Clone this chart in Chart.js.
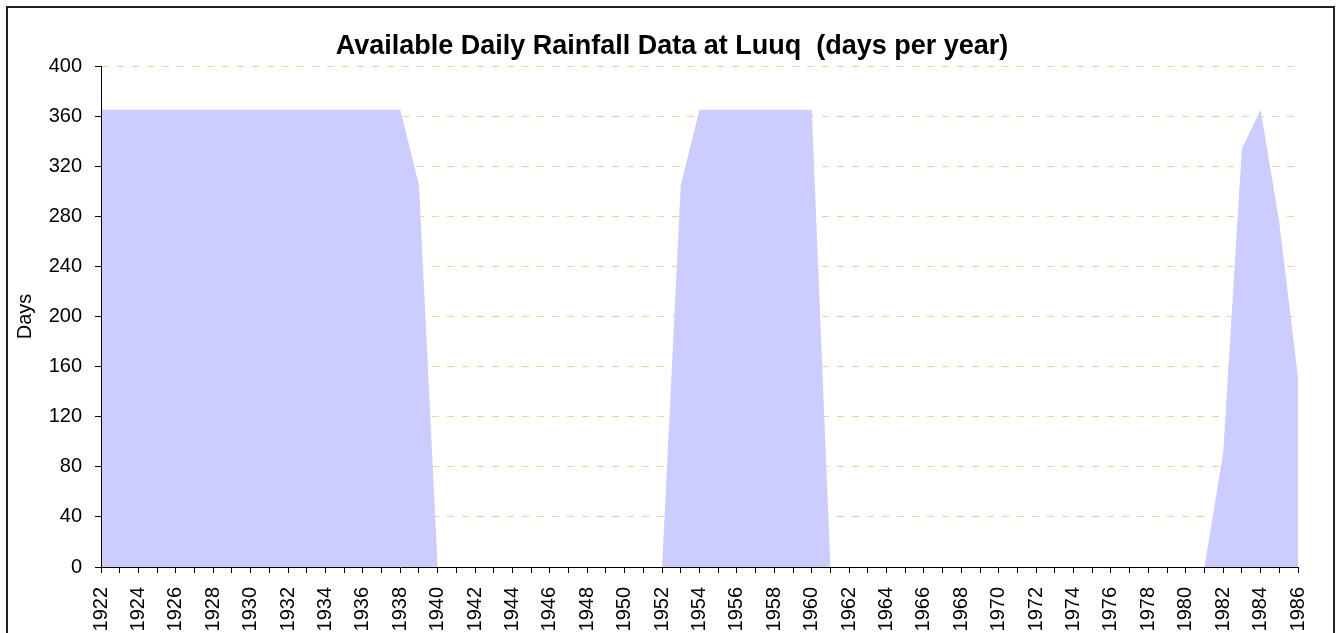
<!DOCTYPE html>
<html>
<head>
<meta charset="utf-8">
<script src="https://cdn.jsdelivr.net/npm/chart.js@4/dist/chart.umd.min.js"></script>
<style>
  body { margin: 0; background: #fff; overflow: hidden; }
  #caixa { position: absolute; left: 0; top: 0; width: 1337px; height: 633px; }
  #moldura { position: absolute; left: 6px; top: 6px; width: 1325px; height: 700px; border: 2px solid #222; pointer-events: none; }
</style>
</head>
<body>
<div id="caixa"><canvas id="grafico" width="1337" height="633"></canvas></div>
<div id="moldura"></div>
<script>
// anos (eixo x)
let anos = [
  "1922", "1923", "1924", "1925", "1926", "1927", "1928", "1929", "1930", "1931",
  "1932", "1933", "1934", "1935", "1936", "1937", "1938", "1939", "1940", "1941",
  "1942", "1943", "1944", "1945", "1946", "1947", "1948", "1949", "1950", "1951",
  "1952", "1953", "1954", "1955", "1956", "1957", "1958", "1959", "1960", "1961",
  "1962", "1963", "1964", "1965", "1966", "1967", "1968", "1969", "1970", "1971",
  "1972", "1973", "1974", "1975", "1976", "1977", "1978", "1979", "1980", "1981",
  "1982", "1983", "1984", "1985", "1986"
];

// dias com dados por ano
let dias = [
  365, 365, 365, 365, 365, 365, 365, 365, 365, 365,
  365, 365, 365, 365, 365, 365, 365, 305, 0, 0,
  0, 0, 0, 0, 0, 0, 0, 0, 0, 0,
  0, 305, 365, 365, 365, 365, 365, 365, 365, 0,
  0, 0, 0, 0, 0, 0, 0, 0, 0, 0,
  0, 0, 0, 0, 0, 0, 0, 0, 0, 0,
  91, 334, 365, 275, 151
];

let eixoYMin = 0;
let eixoYMax = 400;
let eixoYPasso = 40;

let fonte = "'Liberation Sans', Arial, sans-serif";

let ctx = document.getElementById("grafico");

new Chart(ctx, {
  type: "line",
  data: {
    labels: anos,
    datasets: [{
      label: "Days",
      data: dias,
      fill: "origin",
      backgroundColor: "#ccccff",
      borderColor: "#ccccff",
      borderWidth: 0,
      pointRadius: 0,
      tension: 0
    }]
  },
  options: {
    responsive: false,
    animation: false,
    layout: {
      padding: { left: 7, right: 0, top: 0, bottom: 0 }
    },
    plugins: {
      legend: { display: false },
      tooltip: { enabled: false },
      title: {
        display: true,
        text: "Available Daily Rainfall Data at Luuq  (days per year)",
        color: "#000",
        font: { family: fonte, size: 27, weight: "bold", lineHeight: 1 },
        padding: { top: 33, bottom: 6 }
      }
    },
    scales: {
      x: {
        offset: false,
        grid: {
          display: true,
          drawOnChartArea: false,
          drawTicks: true,
          tickLength: 6,
          color: "#000"
        },
        border: { display: true, color: "#000", width: 1, z: 1 },
        ticks: {
          autoSkip: false,
          maxRotation: 90,
          minRotation: 90,
          padding: 14,
          color: "#000",
          font: { family: fonte, size: 20 },
          callback: function (valor, indice) {
            return indice % 2 == 0 ? this.getLabelForValue(valor) : "";
          }
        },
        afterFit: function (escala) {
          escala.height = 66;
        }
      },
      y: {
        min: eixoYMin,
        max: eixoYMax,
        grid: {
          color: "#ffcc99",
          tickColor: "#000",
          tickBorderDash: [],
          tickLength: 6
        },
        border: { display: true, color: "#000", width: 1, z: 1, dash: [7, 8] },
        ticks: {
          stepSize: eixoYPasso,
          padding: 13,
          color: "#000",
          font: { family: fonte, size: 20 }
        },
        title: {
          display: true,
          text: "Days",
          color: "#000",
          font: { family: fonte, size: 20 },
          padding: { top: 6, bottom: 0 }
        },
        afterFit: function (escala) {
          escala.width = 94;
        }
      },
      // eixo vazio a direita so para reservar a margem
      margem: {
        type: "linear",
        position: "right",
        display: true,
        grid: { display: false },
        border: { display: false },
        ticks: { display: false },
        afterFit: function (escala) {
          escala.width = 39;
        }
      }
    }
  }
});
</script>
</body>
</html>
